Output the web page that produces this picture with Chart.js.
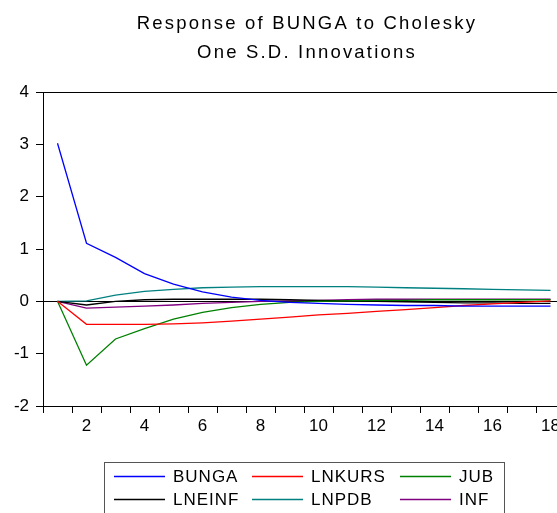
<!DOCTYPE html>
<html>
<head>
<meta charset="utf-8">
<script src="https://cdn.jsdelivr.net/npm/chart.js@4/dist/chart.umd.min.js"></script>
<style>
  html, body { margin: 0; padding: 0; background: #fff; overflow: hidden; }
  canvas { display: block; }
</style>
</head>
<body>
<canvas id="irf" width="610" height="513"></canvas>
<script>
// periods after the shock
const periods = ['1','2','3','4','5','6','7','8','9','10','11','12','13','14','15','16','17','18'];
const yTicks = [-2, -1, 0, 1, 2, 3, 4];

// responses
const bunga  = [3.02, 1.11, 0.84, 0.53, 0.33, 0.18, 0.08, 0.02, -0.02, -0.04, -0.06, -0.07, -0.08, -0.08, -0.09, -0.09, -0.09, -0.09];
const lnkurs = [0, -0.44, -0.44, -0.44, -0.43, -0.41, -0.38, -0.34, -0.30, -0.26, -0.23, -0.19, -0.16, -0.12, -0.08, -0.05, -0.02, 0.01];
const jub    = [0, -1.22, -0.72, -0.52, -0.34, -0.21, -0.12, -0.06, -0.02, 0.00, 0.01, 0.02, 0.02, 0.03, 0.03, 0.03, 0.03, 0.03];
const lneinf = [0, -0.07, 0.00, 0.03, 0.04, 0.04, 0.04, 0.04, 0.03, 0.02, 0.01, 0.00, -0.01, -0.02, -0.03, -0.03, -0.04, -0.04];
const lnpdb  = [0, 0.01, 0.12, 0.19, 0.23, 0.26, 0.27, 0.28, 0.28, 0.28, 0.28, 0.27, 0.26, 0.25, 0.24, 0.23, 0.22, 0.21];
const inf    = [0, -0.13, -0.11, -0.09, -0.07, -0.04, -0.02, 0.00, 0.01, 0.02, 0.03, 0.04, 0.04, 0.04, 0.04, 0.04, 0.04, 0.04];

const seriesNames = ['BUNGA', 'LNKURS', 'JUB', 'LNEINF', 'LNPDB', 'INF'];
const seriesData = [bunga, lnkurs, jub, lneinf, lnpdb, inf];
const seriesColors = ['#0000ff', '#ff0000', '#008000', '#000000', '#008080', '#800080'];

const titleLines = ['Response of BUNGA to Cholesky', 'One S.D. Innovations'];

document.addEventListener('DOMContentLoaded', () => {
  const FONT = '"Liberation Sans", Arial, sans-serif';

  // title, frame and the boxed 3-column legend (EViews style)
  const decor = {
    id: 'decor',
    afterDraw(chart) {
      const ctx = chart.ctx;
      const a = chart.chartArea;
      ctx.save();

      // frame around plot
      ctx.strokeStyle = '#000';
      ctx.lineWidth = 1;
      ctx.strokeRect(Math.round(a.left) + 0.5, Math.round(a.top) + 0.5, Math.round(a.right - a.left), Math.round(a.bottom - a.top));

      // title
      ctx.fillStyle = '#000';
      ctx.font = '18.5px ' + FONT;
      ctx.letterSpacing = '2.2px';
      ctx.textAlign = 'center';
      ctx.textBaseline = 'alphabetic';
      const cx = (a.left + a.right) / 2 + 3;
      ctx.fillText(titleLines[0], cx, 29);
      ctx.fillText(titleLines[1], cx, 57.5);

      // legend
      ctx.strokeStyle = '#555';
      ctx.strokeRect(104.5, 462.5, 400, 60);
      ctx.font = '17px ' + FONT;
      ctx.letterSpacing = '1px';
      ctx.textAlign = 'left';
      ctx.textBaseline = 'middle';
      const colX = [114, 252, 400];
      const rowY = [476, 499];
      chart.data.datasets.forEach((ds, i) => {
        const x = colX[i % 3];
        const y = rowY[Math.floor(i / 3)];
        ctx.strokeStyle = ds.borderColor;
        ctx.lineWidth = 1.3;
        ctx.beginPath();
        ctx.moveTo(x, y + 0.5);
        ctx.lineTo(x + 51, y + 0.5);
        ctx.stroke();
        ctx.fillStyle = '#000';
        ctx.fillText(ds.label, x + 59, y + 1);
      });
      ctx.restore();
    }
  };

  const datasets = seriesNames.map((name, i) => ({
    label: name,
    data: seriesData[i],
    borderColor: seriesColors[i],
    backgroundColor: seriesColors[i],
    borderWidth: 1.3,
    pointRadius: 0,
    tension: 0,
    fill: false
  }));

  new Chart(document.getElementById('irf'), {
    type: 'line',
    data: { labels: periods, datasets: datasets },
    options: {
      responsive: false,
      animation: false,
      devicePixelRatio: 1,
      layout: { padding: { top: 92, bottom: 77, left: 0, right: 45 } },
      plugins: {
        legend: { display: false },
        title: { display: false },
        tooltip: { enabled: false }
      },
      scales: {
        x: {
          type: 'category',
          offset: true,
          afterFit: (s) => { s.height = 30; },
          border: { color: '#000', width: 1 },
          grid: {
            offset: true,
            drawOnChartArea: false,
            tickLength: 7,
            color: '#000',
            tickColor: '#000'
          },
          ticks: {
            autoSkip: false,
            maxRotation: 0,
            padding: 3,
            color: '#000',
            font: { family: FONT, size: 17 },
            callback: function (val, idx) {
              const lab = this.getLabelForValue(val);
              return Number(lab) % 2 === 0 ? lab : '';
            }
          }
        },
        y: {
          min: -2,
          max: 4,
          afterFit: (s) => { s.width = 43; },
          afterBuildTicks: (s) => { s.ticks = yTicks.map(v => ({ value: v })); },
          border: { color: '#000', width: 1 },
          grid: {
            drawOnChartArea: true,
            tickLength: 7,
            color: (c) => (c.tick && c.tick.value === 0 ? '#000' : 'rgba(0,0,0,0)'),
            tickColor: '#000'
          },
          ticks: {
            padding: 7,
            color: '#000',
            font: { family: FONT, size: 17 }
          }
        }
      }
    },
    plugins: [decor]
  });
});
</script>
</body>
</html>
